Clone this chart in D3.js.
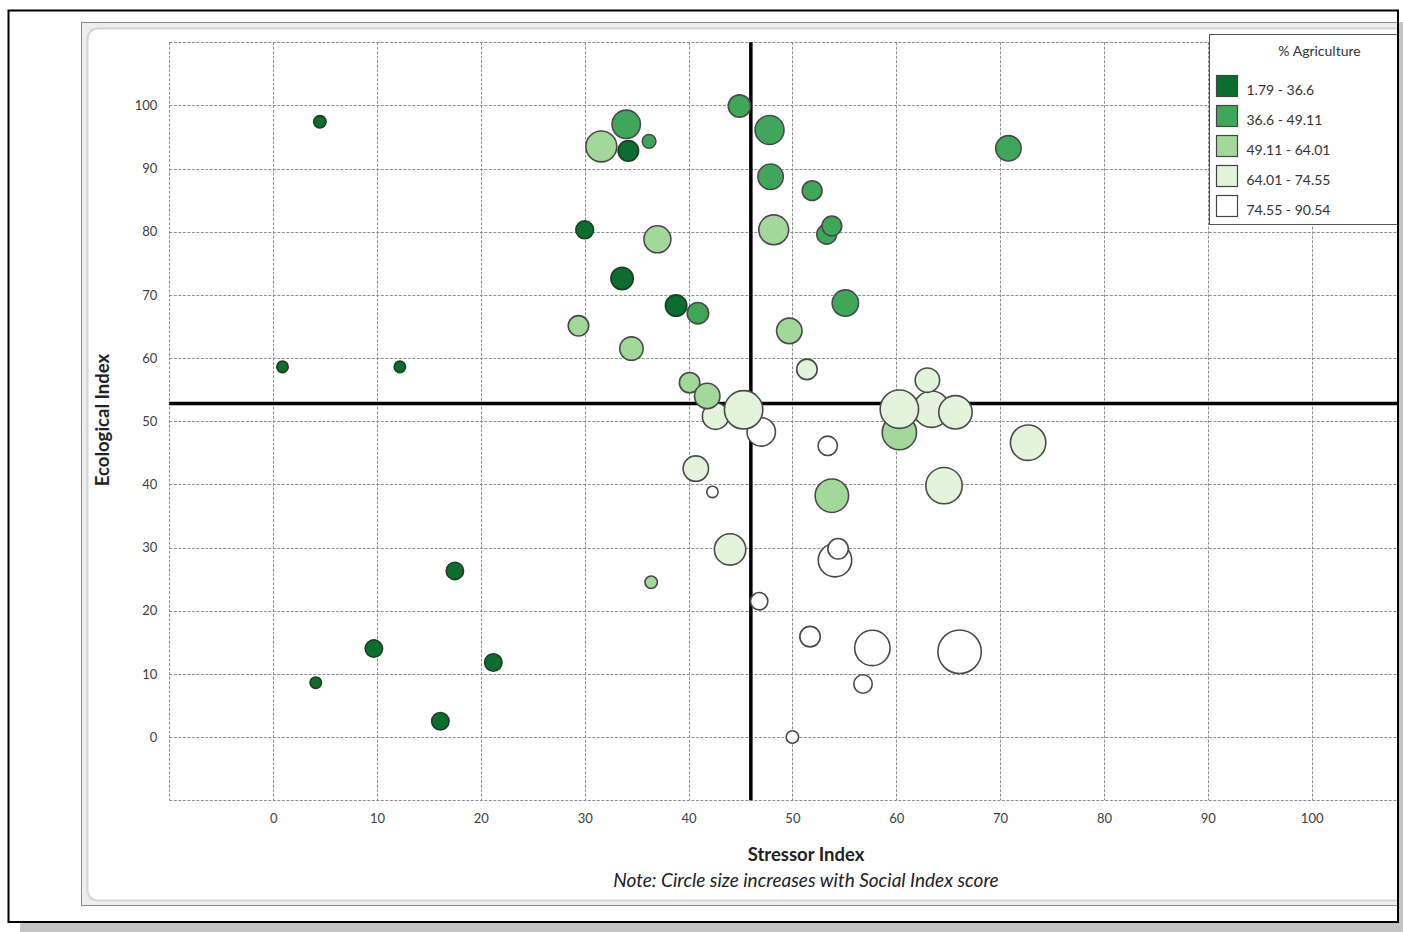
<!DOCTYPE html>
<html>
<head>
<meta charset="utf-8">
<script src="https://cdn.jsdelivr.net/npm/d3@7"></script>
<style>
  html, body { margin: 0; padding: 0; background: #ffffff; }
  svg { display: block; }
</style>
</head>
<body>
<svg id="chart" width="1403" height="932"></svg>
<script>
// ---------------- DATA ----------------
const stressor = [4.5, 0.9, 12.2, 17.5, 9.7, 4.1, 16.1, 21.2,
  44.9, 34.0, 31.6, 34.2, 36.2, 47.8, 47.9, 51.9, 30.0, 37.0, 48.2, 53.3, 53.8, 70.8,
  33.6, 38.8, 40.9, 55.1, 29.4, 34.5, 49.7, 51.4, 40.1, 42.6, 41.8, 47.0, 45.3, 53.4,
  60.3, 63.4, 60.3, 63.0, 65.7, 72.7, 40.7, 42.3, 53.8, 64.6, 44.0, 54.1, 54.4, 36.4,
  46.8, 51.7, 57.7, 66.1, 56.8, 50.0];
const ecological = [97.4, 58.6, 58.6, 26.3, 14.0, 8.6, 2.5, 11.8,
  99.9, 97.0, 93.5, 92.8, 94.3, 96.1, 88.7, 86.5, 80.3, 78.8, 80.3, 79.6, 80.9, 93.2,
  72.6, 68.3, 67.1, 68.7, 65.1, 61.5, 64.3, 58.2, 56.1, 50.8, 54.0, 48.3, 51.8, 46.1,
  48.2, 51.9, 51.9, 56.5, 51.4, 46.6, 42.5, 38.8, 38.2, 39.8, 29.7, 28.0, 29.8, 24.5,
  21.5, 15.9, 14.1, 13.5, 8.4, 0.0];
const social = [9.3, 8, 8, 17, 17, 8, 17, 17,
  27, 42.5, 50, 23, 11, 44, 34.5, 21.6, 17.8, 38.7, 46.6, 21.6, 21.6, 34.5,
  27, 25, 25, 37, 23, 29.5, 34.5, 23, 23, 37, 34.5, 42.5, 75.6, 20.8,
  61, 68, 75.6, 32, 58, 64.7, 34.5, 8, 58, 68, 51.5, 58, 23, 9.3,
  17, 23, 64.7, 95.7, 19, 9.3];
// % Agriculture class index (into agLabels)
const agClass = [0, 0, 0, 0, 0, 0, 0, 0,
  1, 1, 2, 0, 1, 1, 1, 1, 0, 2, 2, 1, 1, 1,
  0, 0, 1, 1, 2, 2, 2, 3, 2, 3, 2, 4, 3, 4,
  2, 3, 3, 3, 3, 3, 3, 4, 2, 3, 3, 4, 4, 2,
  4, 4, 4, 4, 4, 4];
const agLabels = ["1.79 - 36.6", "36.6 - 49.11", "49.11 - 64.01", "64.01 - 74.55", "74.55 - 90.54"];
const agColors = ["#0b6e2f", "#3fa75a", "#a2d89a", "#e3f3dc", "#ffffff"];
const xTicks = [0, 10, 20, 30, 40, 50, 60, 70, 80, 90, 100];
const yTicks = [0, 10, 20, 30, 40, 50, 60, 70, 80, 90, 100];
const gridVals = [-10, 0, 10, 20, 30, 40, 50, 60, 70, 80, 90, 100, 110];
const stressorMean = 46;
const ecologicalMean = 52.8;

// ---------------- DRAW ----------------
const svg = d3.select("#chart");
const font = "Lato, 'Open Sans', sans-serif";

// outer shadow
svg.append("rect").attr("x", 20).attr("y", 922).attr("width", 1383).attr("height", 10).attr("fill", "#c4c4c4");
svg.append("rect").attr("x", 1399).attr("y", 22).attr("width", 4).attr("height", 910).attr("fill", "#c4c4c4");

const defs = svg.append("defs");
defs.append("clipPath").attr("id", "frameClip")
  .append("rect").attr("x", 9).attr("y", 11).attr("width", 1388.5).attr("height", 910);

const g = svg.append("g").attr("clip-path", "url(#frameClip)");

// Excel chart area
g.append("rect").attr("x", 81.5).attr("y", 22.5).attr("width", 1400).attr("height", 883)
  .attr("fill", "#eeeeee").attr("stroke", "#8a8a8a").attr("stroke-width", 1);
g.append("rect").attr("x", 87.5).attr("y", 28.5).attr("width", 1400).attr("height", 872).attr("rx", 10)
  .attr("fill", "#ffffff").attr("stroke", "#d4d4d4").attr("stroke-width", 2);

const x = d3.scaleLinear().domain([-10, 110]).range([169.3, 1415.5]);
const y = d3.scaleLinear().domain([-10, 110]).range([800.2, 42.2]);
const r = d3.scaleSqrt().domain([0, 100]).range([0, 23]);

// grid
const grid = g.append("g");
grid.selectAll("line.v").data(gridVals).join("line")
  .attr("x1", d => Math.round(x(d)) + 0.5).attr("x2", d => Math.round(x(d)) + 0.5)
  .attr("y1", y(110)).attr("y2", y(-10))
  .attr("stroke", "#909090").attr("stroke-width", 1).attr("stroke-dasharray", "3,1.5");
grid.selectAll("line.h").data(gridVals).join("line")
  .attr("y1", d => Math.round(y(d)) + 0.5).attr("y2", d => Math.round(y(d)) + 0.5)
  .attr("x1", x(-10)).attr("x2", x(110))
  .attr("stroke", "#909090").attr("stroke-width", 1).attr("stroke-dasharray", "3,1.5");

// axes (labels only)
const xAxis = d3.axisBottom(x).tickValues(xTicks).tickSize(0).tickPadding(0);
const xg = g.append("g").attr("transform", `translate(0, ${y(-10) + 14})`).call(xAxis);
xg.select(".domain").remove();
xg.selectAll("text").attr("font-family", font).attr("font-size", 13).attr("fill", "#404040").attr("dy", "0.71em");

const yAxis = d3.axisLeft(y).tickValues(yTicks).tickSize(0).tickPadding(0);
const yg = g.append("g").attr("transform", `translate(${x(-10) - 12}, 0)`).call(yAxis);
yg.select(".domain").remove();
yg.selectAll("text").attr("font-family", font).attr("font-size", 13).attr("fill", "#404040");

// reference lines
g.append("line").attr("x1", x(stressorMean)).attr("x2", x(stressorMean))
  .attr("y1", y(110)).attr("y2", y(-10)).attr("stroke", "#000").attr("stroke-width", 3.5);
g.append("line").attr("x1", x(-10)).attr("x2", x(110))
  .attr("y1", y(ecologicalMean)).attr("y2", y(ecologicalMean)).attr("stroke", "#000").attr("stroke-width", 3.5);

// bubbles
const pts = stressor.map((s, i) => ({ s, e: ecological[i], soc: social[i], c: agClass[i] }));
g.append("g").selectAll("circle").data(pts).join("circle")
  .attr("cx", d => x(d.s)).attr("cy", d => y(d.e)).attr("r", d => r(d.soc) - 0.8)
  .attr("fill", d => agColors[d.c])
  .attr("stroke", d => d.c === 0 ? "#1d3d24" : "#4a4a4a")
  .attr("stroke-width", 1.6);

// axis titles
g.append("text").attr("transform", `translate(${109}, ${420}) rotate(-90)`)
  .attr("text-anchor", "middle").attr("font-family", font).attr("font-weight", "bold")
  .attr("font-size", 18.5).attr("fill", "#222").text("Ecological Index");
g.append("text").attr("x", 806).attr("y", 861).attr("text-anchor", "middle")
  .attr("font-family", font).attr("font-weight", "bold").attr("font-size", 18.5).attr("fill", "#222")
  .text("Stressor Index");
g.append("text").attr("x", 806).attr("y", 887).attr("text-anchor", "middle")
  .attr("font-family", font).attr("font-style", "italic").attr("font-size", 19).attr("fill", "#222")
  .text("Note: Circle size increases with Social Index score");

// legend
const lg = g.append("g").attr("transform", "translate(1209.5, 34.5)");
lg.append("rect").attr("width", 230).attr("height", 190).attr("fill", "#fff")
  .attr("stroke", "#555").attr("stroke-width", 1);
lg.append("text").attr("x", 110).attr("y", 21).attr("text-anchor", "middle")
  .attr("font-family", font).attr("font-size", 14).attr("fill", "#333").text("% Agriculture");
const items = lg.selectAll("g.item").data(agLabels).join("g")
  .attr("transform", (d, i) => `translate(7, ${41 + i * 30})`);
items.append("rect").attr("width", 21).attr("height", 21)
  .attr("fill", (d, i) => agColors[i]).attr("stroke", "#444").attr("stroke-width", 1.2);
items.append("text").attr("x", 30).attr("y", 15).attr("dy", "0.35em")
  .attr("font-family", font).attr("font-size", 14).attr("fill", "#333").text(d => d);

// outer frame
svg.append("rect").attr("x", 8.5).attr("y", 10.5).attr("width", 1389.5).attr("height", 911.5)
  .attr("fill", "none").attr("stroke", "#000").attr("stroke-width", 2);
</script>
</body>
</html>
